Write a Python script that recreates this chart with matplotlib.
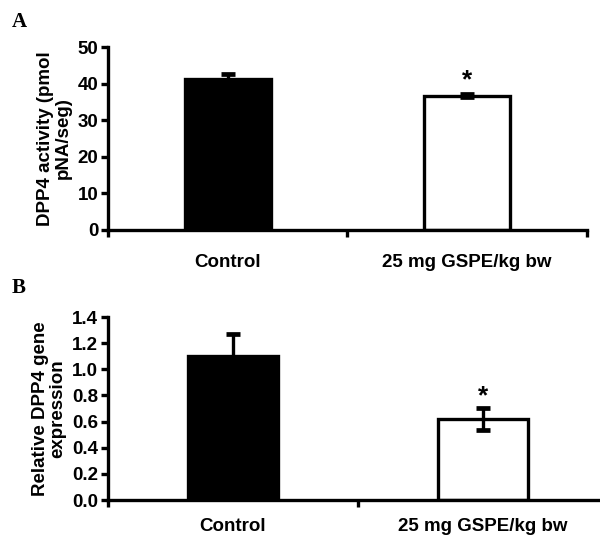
import matplotlib.pyplot as plt

# panel A: DPP4 activity
groups = ["Control", "25 mg GSPE/kg bw"]
activity = [41.4, 36.7]
activity_err = [1.2, 0.4]

# panel B: relative gene expression
expression = [1.10, 0.62]
expression_err = [0.17, 0.085]

plt.rcParams["font.family"] = ["Liberation Sans", "DejaVu Sans"]
plt.rcParams["font.weight"] = "bold"

fig = plt.figure(figsize=(6, 5.38), dpi=100)
axA = fig.add_axes([0.18, 0.5725, 0.798, 0.340])
axB = fig.add_axes([0.18, 0.0706, 0.833, 0.340])

LW = 2.4
FS = 13.5


def draw_panel(ax, vals, errs, ylim, yticks, fmt, ylabel, star_off, pad):
    pos = [0.5, 1.5]
    ax.bar(pos, vals, width=0.36, color=["black", "white"], edgecolor="black",
           linewidth=LW, zorder=2)
    ax.errorbar(pos, vals, yerr=errs, fmt="none", ecolor="black",
                elinewidth=LW, capsize=5, capthick=LW + 1, zorder=3)
    ax.text(pos[1], vals[1] + errs[1] + star_off, "*", ha="center", va="bottom",
            fontsize=19, fontweight="bold")
    ax.set_xlim(0, 2)
    ax.set_ylim(*ylim)
    ax.set_yticks(yticks)
    ax.set_yticklabels([fmt.format(t) for t in yticks], fontsize=FS, fontweight="bold")
    ax.set_xticks([0, 1, 2])
    ax.set_xticklabels([])
    ax.set_xticks(pos, minor=True)
    ax.set_xticklabels(groups, minor=True, fontsize=FS, fontweight="bold")
    ax.tick_params(axis="x", which="minor", length=0, pad=pad)
    ax.tick_params(axis="x", which="major", direction="out", length=5, width=LW)
    ax.tick_params(axis="y", direction="out", length=5, width=LW, pad=2)
    for s in ["top", "right"]:
        ax.spines[s].set_visible(False)
    for s in ["left", "bottom"]:
        ax.spines[s].set_linewidth(LW)
    ax.set_ylabel(ylabel, fontsize=FS, fontweight="bold", linespacing=1.05, labelpad=4)


draw_panel(axA, activity, activity_err, (0, 50), [0, 10, 20, 30, 40, 50], "{:.0f}",
           "DPP4 activity (pmol\npNA/seg)", 0.5, 17)
draw_panel(axB, expression, expression_err, (0, 1.4),
           [0.0, 0.2, 0.4, 0.6, 0.8, 1.0, 1.2, 1.4], "{:.1f}",
           "Relative DPP4 gene\nexpression", 0.0, 13)

fig.text(0.02, 0.977, "A", fontsize=15, fontweight="bold", family="Liberation Serif",
         va="top")
fig.text(0.02, 0.483, "B", fontsize=15, fontweight="bold", family="Liberation Serif",
         va="top")

fig.savefig("out.png", dpi=100)
